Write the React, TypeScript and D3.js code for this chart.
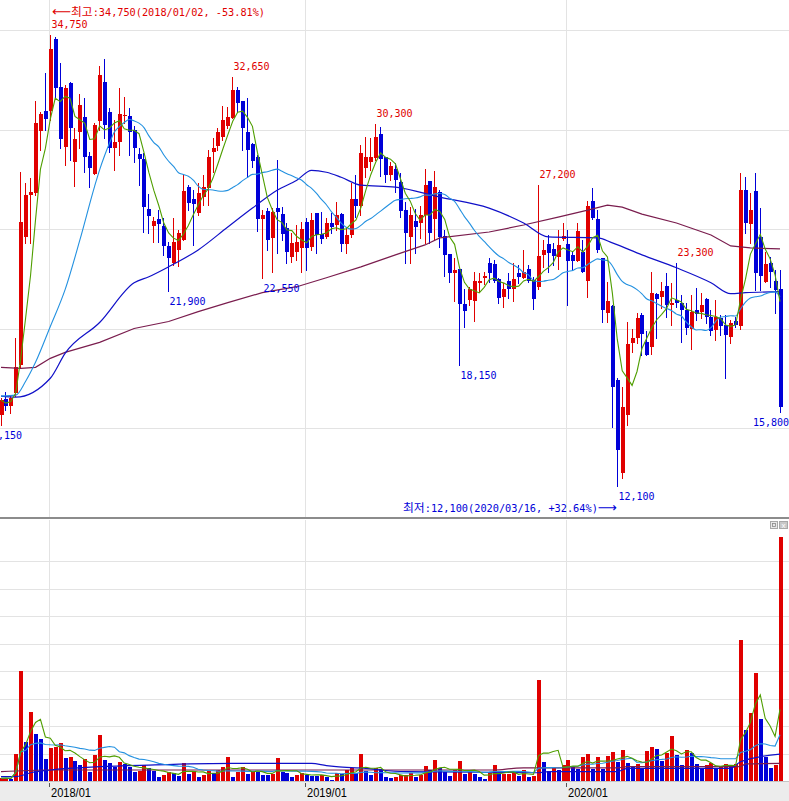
import React from 'react';
import * as d3 from 'd3';

// ---- weekly candles (price in KRW) ----
const open = [
  15650,16450,16100,16750,18150,24600,26700,26800,29900,30950,
  30950,34550,32150,29100,32350,28350,29850,30650,28650,27750,
  30450,32400,30900,29050,29350,30700,30700,30000,28750,28500,
  26000,25150,25500,25150,24150,23300,23950,24450,27100,26500,
  25800,26600,27050,28850,29150,29600,30200,30600,32000,31450,
  29850,29250,28600,25500,25900,24550,26050,25750,25050,23600,
  23850,24050,25350,24100,25800,24750,24600,25300,25200,25750,
  24250,24700,26500,26150,28050,28350,28550,29750,28600,27700,
  28000,27350,25950,24600,25400,25300,25700,27400,25500,26850,
  24650,23750,22800,23000,21250,21450,21400,22300,22550,23300,
  23250,22500,21600,22400,22000,22800,22550,23000,22450,22100,
  23700,24250,24000,23600,24500,24250,23700,23400,23850,22400,
  26400,25500,23550,20800,21150,17400,12750,15650,19250,19500,
  20700,19300,19050,21750,21600,22150,21200,21450,21300,20950,
  19950,20950,20850,21500,20600,19900,20550,20200,19550,20400,
  20150,26950,25250,26900,24600,22350,23300,22400,22000,
];
const high = [
  16500,16800,16600,19500,27850,27300,27550,31450,30900,32850,
  34750,34650,33350,32250,32400,30100,31800,31600,28850,30350,
  33200,33550,31100,30500,32100,31650,31100,30200,29050,28800,
  26750,25600,25950,25550,24350,25550,24950,27700,27200,26950,
  27300,27700,28950,29550,30100,31200,31150,32650,32150,31450,
  31600,29300,28700,25950,26050,26050,28450,26100,25300,24800,
  25200,25350,25550,25800,25800,25850,25550,25800,26350,25800,
  25050,27300,27700,29200,29600,29550,30300,30150,28600,28350,
  28300,27800,26350,26100,26000,26150,28000,27400,27900,26950,
  24950,23750,23550,23000,22000,22100,22850,22800,22850,23550,
  23450,22550,22300,22800,23300,23200,23950,23200,22600,27200,
  24450,24700,24300,24950,25300,24950,23850,25300,24450,26400,
  27050,25950,23550,22350,21200,17500,17050,20350,19950,20800,
  20800,19850,22850,21800,22350,22800,22300,23300,21700,21300,
  21700,22050,21800,21550,20950,21450,20700,20700,20450,20600,
  27800,27600,26800,27800,26050,23850,23600,22950,22950,
];
const low = [
  15150,15900,15750,16600,18050,24300,24300,26700,28950,30000,
  30500,31600,29050,28200,28450,27150,29050,27850,27100,27750,
  30000,29550,28850,27950,28700,30350,28700,28350,27200,24850,
  24800,24350,24350,23700,21900,23200,23150,24450,25950,24200,
  25700,26200,26200,27850,28950,29450,30100,30600,30900,28950,
  27600,28100,24900,22550,23950,22850,23800,24450,23300,23350,
  23450,22850,22950,23950,23800,24300,24550,24800,24950,23900,
  23800,24600,25600,25700,27600,27950,28450,27650,27350,27450,
  26850,25600,23300,23300,23800,24550,24300,24300,24450,24100,
  22650,22350,21400,18150,20100,21200,20400,21900,22250,22350,
  22350,21300,21100,21550,21400,22300,22550,22350,21000,22000,
  23100,22850,23200,23000,24450,21200,22950,23400,22850,21600,
  25500,23850,20350,20350,15050,12100,12500,15150,18800,19250,
  18650,18650,18700,19500,21050,20600,20200,21100,19300,19700,
  18950,20450,20550,20300,19650,19400,19650,17500,19250,20100,
  19950,24800,24300,21950,21950,22350,22100,20800,15800,
];
const close = [
  16400,16100,16500,18050,25350,26700,26850,30350,30800,30550,
  34050,32100,29500,32100,30100,29500,31250,28600,28050,30250,
  32750,30250,29050,29350,30800,30750,29850,29050,28500,26100,
  25650,25400,25250,24150,23550,24350,24800,26900,26300,26250,
  26800,27100,28600,29050,29850,30500,30650,32000,31350,30100,
  28950,28400,25500,25700,24450,25850,25850,24750,23850,24300,
  24350,25000,24050,25450,24700,24500,25300,25100,25700,24250,
  24700,26500,26150,28800,28600,28600,29600,28500,27700,28150,
  27450,25900,24800,25700,25100,25700,27200,24800,27100,24600,
  23700,22800,22950,21250,20900,22000,22400,22400,22650,22800,
  22400,21550,22000,22000,22500,22600,22850,22400,21500,23650,
  23950,23800,23650,24200,24650,23400,23400,24900,22850,26150,
  25550,23950,20950,21400,17050,13900,16050,19200,19500,20550,
  19700,18650,21800,21500,21900,21200,21300,21300,20950,20050,
  20850,20750,21200,20600,19850,20600,20150,19650,20300,20200,
  26950,25300,25950,22800,22650,23250,22850,21950,16050,
];
// weekly volume (thousand shares)
const volume = [
  10,11,8,98,401,143,252,171,153,81,
  121,125,138,85,88,74,58,79,34,95,
  167,76,67,52,69,62,50,34,35,58,
  46,37,16,22,34,30,19,67,25,36,
  16,22,36,30,40,52,88,16,34,52,
  25,37,34,22,21,24,83,34,30,16,
  22,30,22,19,18,22,16,4,28,24,
  40,48,28,98,37,22,46,45,16,12,
  16,22,23,28,16,22,55,40,76,46,
  34,19,40,73,25,34,25,16,7,30,
  58,24,25,26,28,18,40,16,18,367,
  69,36,46,40,58,76,52,44,88,98,
  44,88,43,91,107,70,113,67,55,62,
  48,109,125,117,74,101,164,95,58,113,
  101,61,46,58,64,46,55,62,58,62,
  513,185,248,394,225,86,48,58,887,
];

// ---- axis ----
const tickIdx = [10, 62, 115];
const tickLabels = ['2018/01', '2019/01', '2020/01'];
const priceGridValues = [15000, 20000, 25000, 30000, 35000];
const volumeGridValues = [100, 200, 300, 400, 500, 600, 700, 800];

const ma20EarlyIdx = [0, 3, 5, 7, 10, 13, 16];
const ma20EarlyVal = [16600, 16650, 17350, 18300, 20100, 21950, 24450];
const ma60Idx = [0, 3, 10, 13, 20, 27, 30, 34, 40, 46, 51, 56, 60, 63, 66, 69, 73, 80, 89, 99, 106, 111, 121, 124, 130, 137, 144, 148, 151, 158];
const ma60Val = [16600, 16550, 17500, 18750, 20300, 22300, 22600, 23100, 23950, 25100, 26050, 26950, 27450, 27950, 27850, 27600, 27200, 27100, 26600, 26050, 25300, 24600, 24550, 24300, 23700, 23050, 22300, 21750, 21800, 21850];
const ma120Idx = [0, 4, 7, 10, 13, 20, 27, 34, 40, 46, 53, 60, 66, 73, 80, 86, 89, 99, 106, 113, 119, 123, 126, 130, 137, 144, 148, 152, 158];
const ma120Val = [18050, 18000, 18050, 18500, 18800, 19300, 20000, 20350, 20850, 21300, 21800, 22100, 22550, 23100, 23700, 24200, 24550, 24850, 25200, 25600, 25950, 26200, 26100, 25750, 25300, 24700, 24150, 24050, 24000];
const volMa60Idx = [0, 3, 6, 10, 20, 30, 47, 63, 66, 68, 74, 77, 82, 109, 111, 125, 127, 148, 150, 158];
const volMa60Val = [16, 16, 30, 40, 52, 58, 64, 64, 56, 52, 46, 40, 34, 30, 34, 34, 46, 46, 70, 98];
const volMa120Idx = [0, 10, 100, 104, 106, 125, 127, 150, 151, 158];
const volMa120Val = [34, 40, 40, 46, 48, 48, 52, 52, 62, 64];

const highLabelIdx = [10, 47, 76, 109, 137];
const lowLabelIdx = [0, 34, 53, 93, 125, 158];
const arrowLeft = '⟵';
const arrowRight = '⟶';
const maxWord = '최고';
const maxBody = ':34,750(2018/01/02, -53.81%)';
const minWord = '최저';
const minBody = ':12,100(2020/03/16, +32.64%)';

const RED = '#e00000';
const BLUE = '#0000d8';
const C_MA5 = '#4f9e00';
const C_MA20 = '#2391e0';
const C_MA60 = '#1010c8';
const C_MA120 = '#7a1d4e';
const GRID = '#e3e3e3';
const FONT = "'Liberation Sans', 'Noto Sans CJK KR', 'DejaVu Sans', sans-serif";
const MONO = "'DejaVu Sans Mono', 'Noto Sans CJK KR', 'DejaVu Sans', monospace";
const ARROWFONT = "'DejaVu Sans', 'Noto Sans', sans-serif";
const KFONT = "'Noto Sans CJK KR', sans-serif";

function sma(arr: number[], w: number): number[] {
  return arr.map((_, i) => {
    const s = Math.max(0, i - w + 1);
    return d3.mean(arr.slice(s, i + 1)) as number;
  });
}
const fmt = d3.format(',');

export default function App() {
  const n = close.length;
  const x = d3.scaleLinear().domain([0, n - 1]).range([1, 780]);
  const y = d3.scaleLinear().domain([15000, 35000]).range([428, 30]);
  const yv = d3.scaleLinear().domain([0, 800]).range([781, 561]);
  const left = (i: number) => Math.round(x(i) - 1.5);

  const priceLine = d3.line<[number, number]>().x(d => x(d[0])).y(d => y(d[1]));
  const smoothPrice = d3.line<[number, number]>().x(d => x(d[0])).y(d => y(d[1])).curve(d3.curveMonotoneX);
  const volLine = d3.line<[number, number]>().x(d => x(d[0])).y(d => yv(d[1]));
  const smoothVol = d3.line<[number, number]>().x(d => x(d[0])).y(d => yv(d[1])).curve(d3.curveMonotoneX);

  const ma5 = sma(close, 5).map((v, i) => [i, v] as [number, number]);
  const ma20Full = sma(close, 20);
  const ma20: [number, number][] = [
    ...ma20EarlyIdx.map((i, k) => [i, ma20EarlyVal[k]] as [number, number]),
    ...ma20Full.map((v, i) => [i, v] as [number, number]).filter(d => d[0] >= 19),
  ];
  const ma60 = ma60Idx.map((i, k) => [i, ma60Val[k]] as [number, number]);
  const ma120 = ma120Idx.map((i, k) => [i, ma120Val[k]] as [number, number]);

  const vma5 = sma(volume, 5).map((v, i) => [i, v] as [number, number]);
  const vma20 = sma(volume, 20).map((v, i) => [i, v] as [number, number]);
  const vma60 = volMa60Idx.map((i, k) => [i, volMa60Val[k]] as [number, number]);
  const vma120 = volMa120Idx.map((i, k) => [i, volMa120Val[k]] as [number, number]);

  return (
    <svg width={789} height={801} style={{ position: 'absolute', left: 0, top: 0, background: '#fff' }} fontFamily={FONT}>
      <defs>
        <clipPath id="pclip"><rect x={0} y={0} width={789} height={517} /></clipPath>
        <clipPath id="vclip"><rect x={0} y={520} width={789} height={261} /></clipPath>
      </defs>
      <rect x={0} y={0} width={789} height={801} fill="#fff" />
      {/* grid */}
      {priceGridValues.map(v => (
        <rect key={'pg' + v} x={0} y={Math.round(y(v))} width={789} height={1} fill={GRID} />
      ))}
      {volumeGridValues.map(v => (
        <rect key={'vg' + v} x={0} y={Math.round(yv(v))} width={789} height={1} fill={GRID} />
      ))}
      {tickIdx.map(i => (
        <g key={'vgx' + i}>
          <rect x={left(i)} y={0} width={1} height={517} fill={GRID} />
          <rect x={left(i)} y={520} width={1} height={261} fill={GRID} />
        </g>
      ))}

      {/* candles */}
      <g clipPath="url(#pclip)">
        {close.map((c, i) => {
          const o = open[i];
          const up = c >= o;
          const col = up ? RED : BLUE;
          const l = left(i);
          const top = Math.round(y(Math.max(o, c)));
          const bot = Math.round(y(Math.min(o, c)));
          const hi = Math.round(y(high[i]));
          const lo = Math.round(y(low[i]));
          return (
            <g key={'c' + i}>
              <rect x={l + 1} y={hi} width={1} height={Math.max(1, lo - hi + 1)} fill={col} />
              <rect x={l} y={top} width={4} height={Math.max(1, bot - top)} fill={col} />
            </g>
          );
        })}
        <path d={priceLine(ma120) || ''} fill="none" stroke={C_MA120} strokeWidth={1.2} />
        <path d={smoothPrice(ma60) || ''} fill="none" stroke={C_MA60} strokeWidth={1.2} />
        <path d={smoothPrice(ma20) || ''} fill="none" stroke={C_MA20} strokeWidth={1.1} />
        <path d={priceLine(ma5) || ''} fill="none" stroke={C_MA5} strokeWidth={1.1} />
      </g>

      {/* high / low labels */}
      <g fontFamily={MONO} fontSize={10}>
        {highLabelIdx.map(i => (
          <text key={'hl' + i} x={left(i) + 2.5} y={Math.round(y(high[i])) - 7} fill={RED}>
            {fmt(high[i])}
          </text>
        ))}
        {lowLabelIdx.map(i => {
          const anchorEnd = i === 0 || i === n - 1;
          const tx = i === 0 ? 22 : i === n - 1 ? 789 : left(i) + 2.5;
          return (
            <text key={'ll' + i} x={tx} y={Math.round(y(low[i])) + 14} fill={BLUE}
              textAnchor={anchorEnd ? 'end' : 'start'}>
              {fmt(low[i])}
            </text>
          );
        })}
        <text x={left(10) + 3} y={16} fill={RED} textLength={213} lengthAdjust="spacingAndGlyphs">
          <tspan fontFamily={ARROWFONT} fontSize={13}>{arrowLeft}</tspan>
          <tspan fontFamily={KFONT} fontSize={11.5}>{maxWord}</tspan>
          <tspan>{maxBody}</tspan>
        </text>
        <text x={403} y={512} fill={BLUE} textLength={214} lengthAdjust="spacingAndGlyphs">
          <tspan fontFamily={KFONT} fontSize={11.5}>{minWord}</tspan>
          <tspan>{minBody}</tspan>
          <tspan fontFamily={ARROWFONT} fontSize={13}>{arrowRight}</tspan>
        </text>
      </g>

      {/* panel divider */}
      <rect x={0} y={517} width={789} height={2} fill="#8c8c8c" />
      {/* panel buttons */}
      <rect x={770.5} y={521.5} width={7} height={7} fill="#e8e8e8" stroke="#a8a8a8" />
      <rect x={772.5} y={523.5} width={3} height={3} fill="none" stroke="#888" strokeWidth={0.8} />
      <rect x={779.5} y={521.5} width={8} height={7} fill="#c8c8c8" stroke="#a8a8a8" />
      <text x={783.5} y={528} fontSize={8} fill="#fff" textAnchor="middle">x</text>

      {/* volume */}
      <g clipPath="url(#vclip)">
        {volume.map((v, i) => {
          const up = i === 0 || v >= volume[i - 1];
          const t = Math.round(yv(v));
          return <rect key={'v' + i} x={left(i)} y={t} width={4} height={781 - t} fill={up ? RED : BLUE} />;
        })}
        <path d={smoothVol(vma120) || ''} fill="none" stroke={C_MA120} strokeWidth={1.2} />
        <path d={smoothVol(vma60) || ''} fill="none" stroke={C_MA60} strokeWidth={1.2} />
        <path d={volLine(vma20) || ''} fill="none" stroke={C_MA20} strokeWidth={1.1} />
        <path d={volLine(vma5) || ''} fill="none" stroke={C_MA5} strokeWidth={1.1} />
      </g>

      {/* x axis band */}
      <rect x={0} y={781} width={789} height={20} fill="#ececec" />
      <rect x={0} y={781} width={789} height={1} fill="#c4c4c4" />
      {tickIdx.map((i, k) => (
        <g key={'tk' + i}>
          <rect x={left(i)} y={783} width={1} height={4} fill="#555" />
          <text x={left(i) + 2} y={797} fontSize={13.5} fill="#000" textLength={40} lengthAdjust="spacingAndGlyphs">{tickLabels[k]}</text>
        </g>
      ))}
    </svg>
  );
}
